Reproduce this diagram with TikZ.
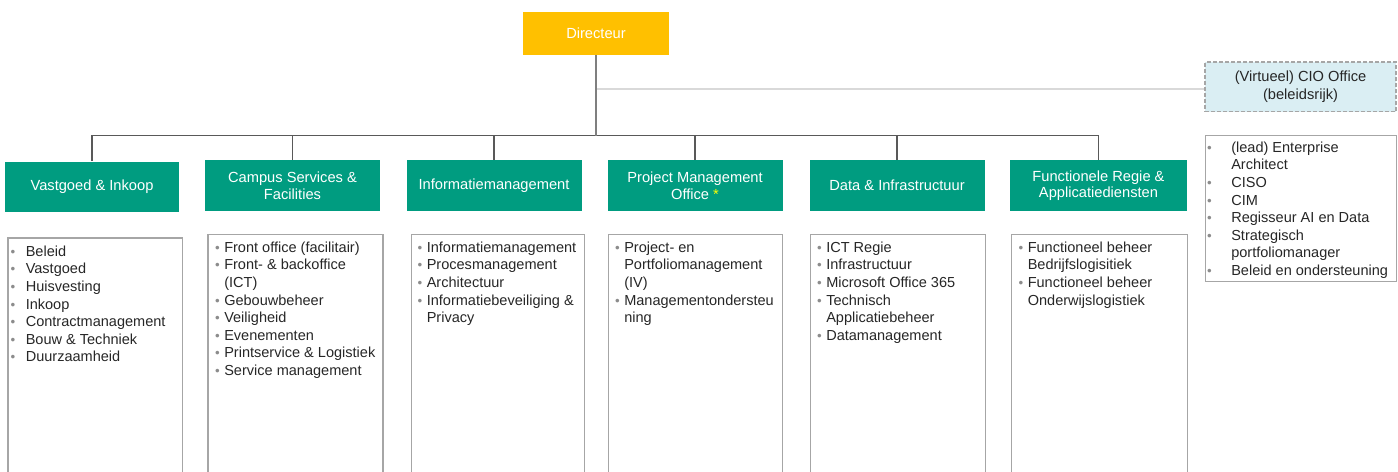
\documentclass[tikz,border=0pt]{standalone}
\usepackage{fontspec}
\setmainfont{Liberation Sans}
\definecolor{dirY}{HTML}{FFC000}
\definecolor{unitG}{HTML}{009C80}
\definecolor{cioB}{HTML}{DAEEF3}
\definecolor{brd}{HTML}{A6A6A6}
\definecolor{treeC}{HTML}{595959}
\definecolor{dirL}{HTML}{7F7F7F}
\definecolor{cioL}{HTML}{D9D9D9}
\definecolor{txt}{HTML}{262626}
\definecolor{bulc}{HTML}{8C8C8C}
\definecolor{astY}{HTML}{FFFF00}
\def\PX{*0.75pt}
\newcommand\bul[1]{\llap{\textcolor{bulc}{\fontsize{10}{10}\selectfont •}\hspace{#1}}}
\newcommand\fst{\rule{0pt}{9pt}}
\newcommand\ia[1]{\bul{7.8pt}#1}
\newcommand\ib[1]{\bul{3.3pt}#1}
\newcommand\ic[1]{\bul{14.7pt}#1}
\tikzset{
  base/.style={font=\fontsize{11}{12.4}\selectfont, inner sep=0pt, rectangle},
  dirbox/.style={base, fill=dirY, text=white, minimum width=146\PX, minimum height=43\PX},
  unitbox/.style={base, fill=unitG, text=white, align=center, minimum width=175\PX, minimum height=51\PX},
  ciobox/.style={base, font=\fontsize{11}{13.5}\selectfont, fill=cioB, draw=brd, dash pattern=on 3pt off 1.5pt, line width=0.8pt, align=center, text=txt, minimum width=191\PX, minimum height=49.5\PX},
  lstbox/.style={draw=brd, line width=0.9pt, anchor=north west, inner sep=0pt, rectangle},
  lsttxt/.style={font=\fontsize{10.9}{13.2}\selectfont, text=txt, align=left, anchor=north west, inner sep=0pt},
  tree/.style={draw=treeC, line width=1.1pt},
  dirline/.style={draw=dirL, line width=1.5pt},
  cioline/.style={draw=cioL, line width=1.5pt}
}
\begin{document}
\begin{tikzpicture}[x=0.75pt, y=-0.75pt]
\useasboundingbox (0,0) rectangle (1398,471);
\clip (0,0) rectangle (1398,471);

% top
\node[dirbox] (dir) at (596,33.5) {Directeur};
\node[ciobox] (cio) at (1300.5,86.75) {(Virtueel) CIO Office\\(beleidsrijk)};

% units
\node[unitbox, minimum width=174\PX, minimum height=50\PX] (u1) at (92,186.5) {Vastgoed \& Inkoop};
\node[unitbox] (u2) at (292.5,185.5) {Campus Services \&\\Facilities};
\node[unitbox] (u3) at (494,185.5) {Informatiemanagement};
\node[unitbox] (u4) at (695,185.5) {Project Management\\Office \textcolor{astY}{*}};
\node[unitbox] (u5) at (897,185.5) {Data \& Infrastructuur};
\node[unitbox, minimum width=177\PX] (u6) at (1098.5,185.5) {Functionele Regie \&\\Applicatiediensten};

% connectors
\coordinate (cj) at (596,89);
\draw[cioline] (cj) -- (cio.west |- cj);
\draw[tree] (u1.north) -- ++(0,-25.5) coordinate (bar) -| (u6.north);
\draw[tree] (u2.north) -- (u2.north |- bar);
\draw[tree] (u3.north) -- (u3.north |- bar);
\draw[tree] (u4.north) -- (u4.north |- bar);
\draw[tree] (u5.north) -- (u5.north |- bar);
\draw[dirline] (dir.south) -- (dir.south |- bar);

% list boxes
\node[lstbox, minimum width=174.7\PX, minimum height=245\PX] (l1) at (7.3,237.3) {};
\node[lstbox, minimum width=175\PX, minimum height=250\PX] (l2) at (207.3,234) {};
\node[lstbox, minimum width=173.5\PX, minimum height=250\PX] (l3) at (410.5,234) {};
\node[lstbox, minimum width=174\PX, minimum height=250\PX] (l4) at (607.5,234) {};
\node[lstbox, minimum width=175\PX, minimum height=250\PX] (l5) at (810,234) {};
\node[lstbox, minimum width=176\PX, minimum height=250\PX] (l6) at (1011,234) {};
\node[lstbox, minimum width=191.5\PX, minimum height=145.5\PX] (l7) at (1204.5,135) {};

% list texts
\node[lsttxt] (t1) at (25.5,244) {\ia{\fst Beleid}\\\ia{Vastgoed}\\\ia{Huisvesting}\\\ia{Inkoop}\\\ia{Contractmanagement}\\\ia{Bouw \& Techniek}\\\ia{Duurzaamheid}};
\node[lsttxt] (t2) at (224,240) {\ib{\fst Front office (facilitair)}\\\ib{Front- \& backoffice}\\(ICT)\\\ib{Gebouwbeheer}\\\ib{Veiligheid}\\\ib{Evenementen}\\\ib{Printservice \& Logistiek}\\\ib{Service management}};
\node[lsttxt] (t3) at (426.5,240) {\ib{\fst Informatiemanagement}\\\ib{Procesmanagement}\\\ib{Architectuur}\\\ib{Informatiebeveiliging \&}\\Privacy};
\node[lsttxt] (t4) at (624,240) {\ib{\fst Project- en}\\Portfoliomanagement\\(IV)\\\ib{Managementondersteu}\\ning};
\node[lsttxt] (t5) at (826,240) {\ib{\fst ICT Regie}\\\ib{Infrastructuur}\\\ib{Microsoft Office 365}\\\ib{Technisch}\\Applicatiebeheer\\\ib{Datamanagement}};
\node[lsttxt] (t6) at (1027.5,240) {\ib{\fst Functioneel beheer}\\Bedrijfslogisitiek\\\ib{Functioneel beheer}\\Onderwijslogistiek};
\node[lsttxt] (t7) at (1231,140) {\ic{\fst (lead) Enterprise}\\Architect\\\ic{CISO}\\\ic{CIM}\\\ic{Regisseur AI en Data}\\\ic{Strategisch}\\portfoliomanager\\\ic{Beleid en ondersteuning}};
\end{tikzpicture}
\end{document}
